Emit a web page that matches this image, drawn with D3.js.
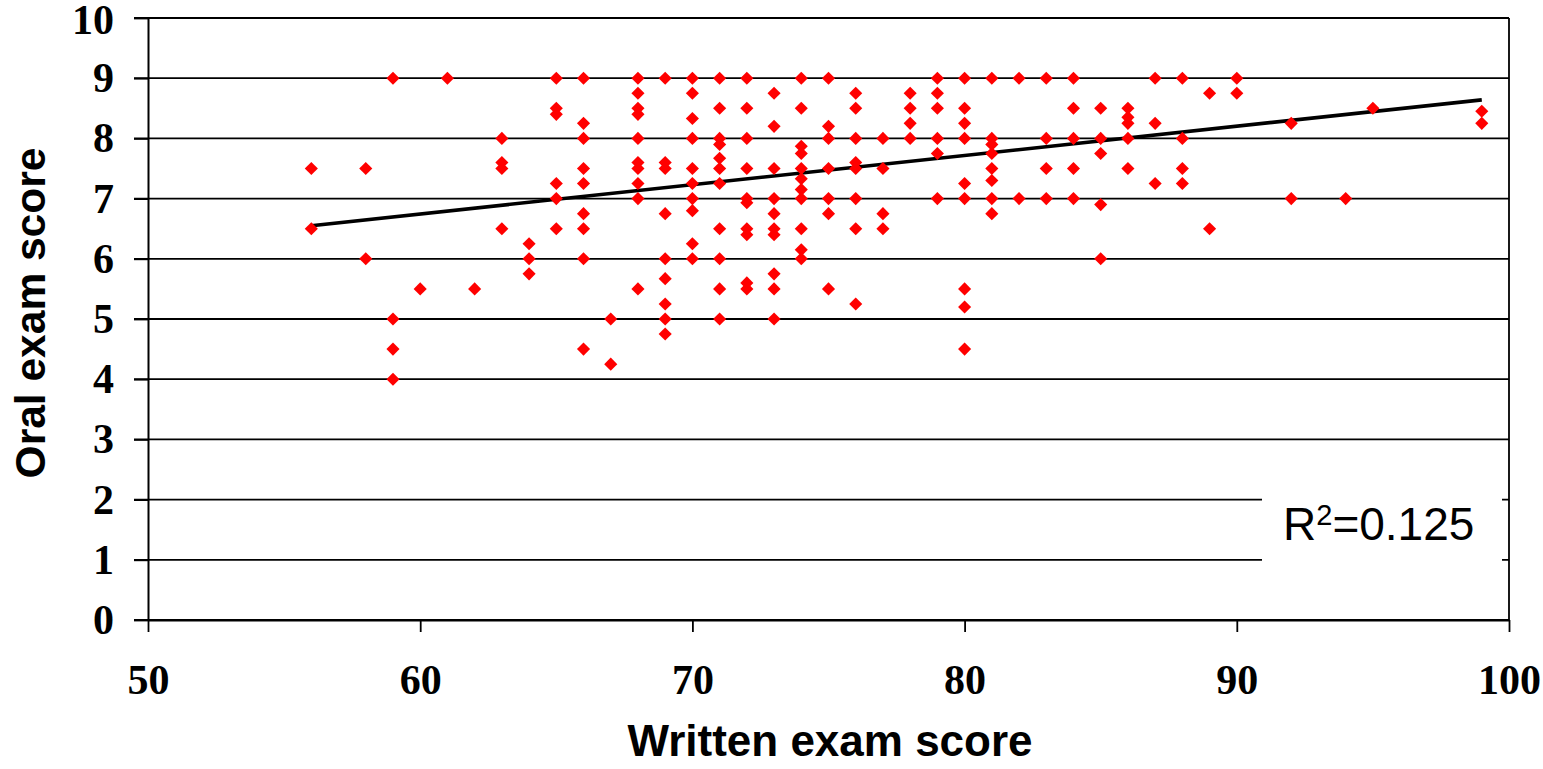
<!DOCTYPE html>
<html>
<head>
<meta charset="utf-8">
<script src="https://cdn.jsdelivr.net/npm/d3@7"></script>
<style>
  html, body { margin: 0; padding: 0; background: #fff; }
  svg { display: block; }
</style>
</head>
<body>
<svg id="chart" width="1543" height="769"></svg>
<script>
// written score of each student (x) and oral score (y), read column by column
var written = [
  56, 56,
  58, 58,
  59, 59, 59, 59,
  60, 61, 62,
  63, 63, 63, 63,
  64, 64, 64,
  65, 65, 65, 65, 65, 65,
  66, 66, 66, 66, 66, 66, 66, 66, 66,
  67, 67,
  68, 68, 68, 68, 68, 68, 68, 68, 68, 68,
  69, 69, 69, 69, 69, 69, 69, 69, 69,
  70, 70, 70, 70, 70, 70, 70, 70, 70, 70,
  71, 71, 71, 71, 71, 71, 71, 71, 71, 71, 71,
  72, 72, 72, 72, 72, 72, 72, 72, 72, 72,
  73, 73, 73, 73, 73, 73, 73, 73, 73, 73,
  74, 74, 74, 74, 74, 74, 74, 74, 74, 74, 74,
  75, 75, 75, 75, 75, 75, 75,
  76, 76, 76, 76, 76, 76, 76, 76,
  77, 77, 77, 77,
  78, 78, 78, 78,
  79, 79, 79, 79, 79, 79,
  80, 80, 80, 80, 80, 80, 80, 80, 80,
  81, 81, 81, 81, 81, 81, 81, 81,
  82, 82,
  83, 83, 83, 83,
  84, 84, 84, 84, 84,
  85, 85, 85, 85, 85,
  86, 86, 86, 86, 86,
  87, 87, 87,
  88, 88, 88, 88,
  89, 89,
  90, 90,
  92, 92,
  94, 95,
  99, 99
];
var oral = [
  7.5, 6.5,
  7.5, 6.0,
  9.0, 5.0, 4.5, 4.0,
  5.5, 9.0, 5.5,
  8.0, 7.6, 7.5, 6.5,
  6.25, 6.0, 5.75,
  9.0, 8.5, 8.4, 7.25, 7.0, 6.5,
  9.0, 8.25, 8.0, 7.5, 7.25, 6.75, 6.5, 6.0, 4.5,
  5.0, 4.25,
  9.0, 8.75, 8.5, 8.4, 8.0, 7.6, 7.5, 7.25, 7.0, 5.5,
  9.0, 7.6, 7.5, 6.75, 6.0, 5.67, 5.25, 5.0, 4.75,
  9.0, 8.75, 8.33, 8.0, 7.5, 7.25, 7.0, 6.8, 6.25, 6.0,
  9.0, 8.5, 8.0, 7.9, 7.67, 7.5, 7.25, 6.5, 6.0, 5.5, 5.0,
  9.0, 8.5, 8.0, 7.5, 7.0, 6.93, 6.5, 6.4, 5.6, 5.5,
  8.75, 8.2, 7.5, 7.0, 6.75, 6.5, 6.4, 5.75, 5.5, 5.0,
  9.0, 8.5, 7.87, 7.75, 7.5, 7.33, 7.15, 7.0, 6.5, 6.15, 6.0,
  9.0, 8.2, 8.0, 7.5, 7.0, 6.75, 5.5,
  8.75, 8.5, 8.0, 7.6, 7.5, 7.0, 6.5, 5.25,
  8.0, 7.5, 6.75, 6.5,
  8.75, 8.5, 8.25, 8.0,
  9.0, 8.75, 8.5, 8.0, 7.75, 7.0,
  9.0, 8.5, 8.25, 8.0, 7.25, 7.0, 5.5, 5.2, 4.5,
  9.0, 8.0, 7.9, 7.75, 7.5, 7.3, 7.0, 6.75,
  9.0, 7.0,
  9.0, 8.0, 7.5, 7.0,
  9.0, 8.5, 8.0, 7.5, 7.0,
  8.5, 8.0, 7.75, 6.9, 6.0,
  8.5, 8.35, 8.25, 8.0, 7.5,
  9.0, 8.25, 7.25,
  9.0, 8.0, 7.5, 7.25,
  8.75, 6.5,
  9.0, 8.75,
  8.25, 7.0,
  7.0, 8.5,
  8.45, 8.25
];

// linear trendline end points as drawn in the chart
var trendX = [56, 99];
var trendY = [6.55, 8.64];
var rSquared = '0.125';

var xTicks = [50, 60, 70, 80, 90, 100];
var yTicks = [0, 1, 2, 3, 4, 5, 6, 7, 8, 9, 10];

var svg = d3.select('#chart');
var plotLeft = 148, plotRight = 1509, plotTop = 18, plotBottom = 620;

var x = d3.scaleLinear().domain([50, 100]).range([plotLeft, plotRight]);
var y = d3.scaleLinear().domain([0, 10]).range([plotBottom, plotTop]);

var tickFont = '"Liberation Serif", "Times New Roman", serif';
var titleFont = '"Liberation Sans", Arial, sans-serif';

// horizontal gridlines (they run out past the axis as the tick marks)
svg.append('g').selectAll('line')
  .data(yTicks)
  .enter()
  .append('line')
  .attr('x1', plotLeft - 14)
  .attr('x2', plotRight)
  .attr('y1', function(d){ return y(d); })
  .attr('y2', function(d){ return y(d); })
  .attr('stroke', '#000')
  .attr('stroke-width', 1.8);

// right border of plot area
svg.append('line')
  .attr('x1', plotRight).attr('x2', plotRight)
  .attr('y1', plotTop).attr('y2', plotBottom)
  .attr('stroke', '#000')
  .attr('stroke-width', 1.8);

var yAxis = svg.append('g')
  .attr('transform', 'translate(' + plotLeft + ',0)')
  .call(d3.axisLeft(y).tickValues(yTicks).tickSize(14).tickPadding(20).tickSizeOuter(0));

var xAxis = svg.append('g')
  .attr('transform', 'translate(0,' + plotBottom + ')')
  .call(d3.axisBottom(x).tickValues(xTicks).tickSize(12).tickPadding(32).tickSizeOuter(0));

[yAxis, xAxis].forEach(function(g) {
  g.select('.domain').attr('stroke', '#000').attr('stroke-width', 2);
  g.selectAll('.tick line').attr('stroke', '#000').attr('stroke-width', 1.8);
  g.selectAll('.tick text')
    .attr('fill', '#000')
    .style('font-family', tickFont)
    .style('font-weight', 'bold')
    .style('font-size', '42px');
});
// keep the top label inside the picture
yAxis.selectAll('.tick text').filter(function(d){ return d === 10; }).attr('dy', '0.36em');

// white box behind the R² label
svg.append('rect')
  .attr('x', 1262)
  .attr('y', y(2.2))
  .attr('width', 240)
  .attr('height', y(0.6) - y(2.2))
  .attr('fill', '#fff');

// trendline
svg.append('path')
  .datum(d3.zip(trendX, trendY))
  .attr('d', d3.line().x(function(d){ return x(d[0]); }).y(function(d){ return y(d[1]); }))
  .attr('fill', 'none')
  .attr('stroke', '#000')
  .attr('stroke-width', 3.6);

// points as red diamonds
var diamond = d3.symbol().type(d3.symbolSquare).size(86);
svg.append('g').selectAll('path')
  .data(d3.zip(written, oral))
  .enter()
  .append('path')
  .attr('d', diamond)
  .attr('transform', function(d){ return 'translate(' + x(d[0]) + ',' + y(d[1]) + ') rotate(45)'; })
  .attr('fill', '#ff0000');

var r2 = svg.append('text')
  .attr('x', 1283)
  .attr('y', 540)
  .style('font-family', titleFont)
  .style('font-size', '46px')
  .attr('fill', '#000');
r2.append('tspan').text('R');
r2.append('tspan').text('2').attr('dy', -15).style('font-size', '29px');
r2.append('tspan').text('=' + rSquared).attr('dy', 15);

svg.append('text')
  .attr('x', 830)
  .attr('y', 756)
  .attr('text-anchor', 'middle')
  .style('font-family', titleFont)
  .style('font-weight', 'bold')
  .style('font-size', '44px')
  .text('Written exam score');

svg.append('text')
  .attr('transform', 'translate(45,313) rotate(-90)')
  .attr('text-anchor', 'middle')
  .style('font-family', titleFont)
  .style('font-weight', 'bold')
  .style('font-size', '42.5px')
  .text('Oral exam score');
</script>
</body>
</html>
